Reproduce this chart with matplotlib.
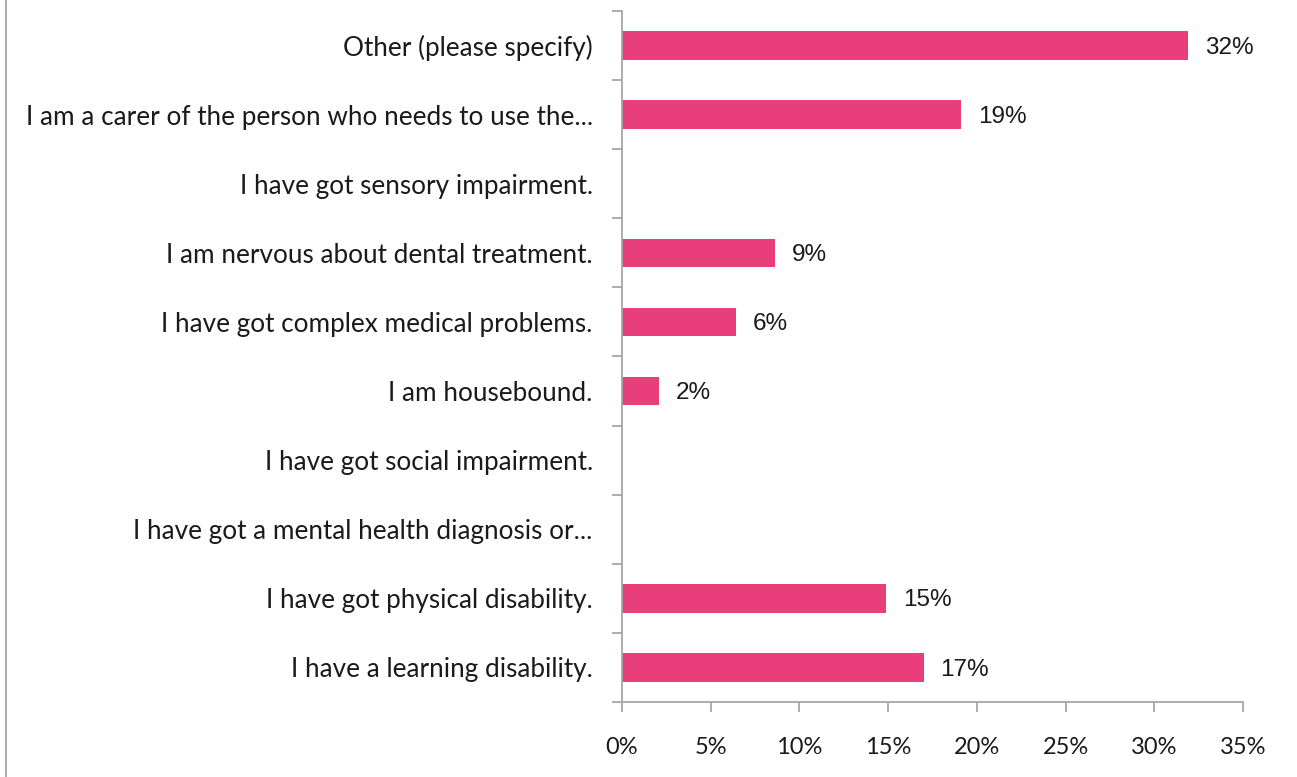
import matplotlib.pyplot as plt
from matplotlib.lines import Line2D
from matplotlib.ticker import FixedLocator, FuncFormatter

# Survey answers, listed bottom to top as drawn
categories = [
    "I have a learning disability.",
    "I have got physical disability.",
    "I have got a mental health diagnosis or...",
    "I have got social impairment.",
    "I am housebound.",
    "I have got complex medical problems.",
    "I am nervous about dental treatment.",
    "I have got sensory impairment.",
    "I am a carer of the person who needs to use the...",
    "Other (please specify)",
]
percent = [17.0, 14.9, 0, 0, 2.1, 6.4, 8.6, 0, 19.1, 31.9]
x_ticks = [0, 5, 10, 15, 20, 25, 30, 35]

bar_color = "#E83E7A"
axis_color = "#A6A6A6"
text_color = "#1A1A1A"
label_font = "Lato"
value_font = "Liberation Sans"

fig = plt.figure(figsize=(12.97, 7.77), dpi=100)
ax = fig.add_axes([622 / 1297, 1 - 702 / 777, 621 / 1297, 691 / 777])

pos = list(range(len(categories)))
ax.barh(pos, percent, height=0.41, color=bar_color)

for y, v in zip(pos, percent):
    if v > 0:
        ax.text(v + 0.95, y - 0.03, f"{v:.0f}%", va="center", ha="left",
                fontsize=17.5, family=value_font, color=text_color)

ax.set_xlim(0, 35)
ax.set_ylim(-0.5, len(categories) - 0.5)

for side in ["top", "right"]:
    ax.spines[side].set_visible(False)
for side in ["left", "bottom"]:
    ax.spines[side].set_color(axis_color)
    ax.spines[side].set_linewidth(1.3)

# category labels on the major ticks, short marks between rows
ax.set_yticks(pos)
ax.set_yticklabels(categories, fontsize=18.8, family=label_font, color=text_color)
ax.yaxis.set_minor_locator(FixedLocator([p - 0.5 for p in pos] + [len(pos) - 0.5]))
ax.tick_params(axis="y", which="major", length=0, pad=21)
ax.tick_params(axis="y", which="minor", length=7, width=1.3, color=axis_color)

ax.set_xticks(x_ticks)
ax.xaxis.set_major_formatter(FuncFormatter(lambda v, _: f"{v:.0f}%"))
ax.tick_params(axis="x", which="major", length=7, width=1.3, color=axis_color,
               direction="out", pad=18, labelsize=17, labelcolor=text_color)
for lab in ax.get_xticklabels():
    lab.set_family(label_font)

# frame edge on the left side of the figure
fig.add_artist(Line2D([6 / 1297, 6 / 1297], [0, 1], transform=fig.transFigure,
                      color=axis_color, linewidth=1.3))

fig.savefig("out.png", dpi=100, facecolor="white")
